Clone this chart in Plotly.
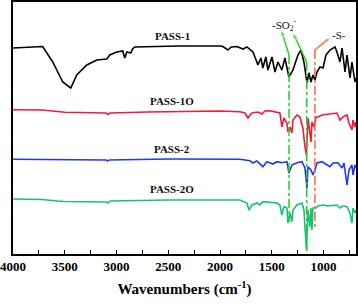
import plotly.graph_objects as go

# Wavenumbers (cm-1) and offset transmittance (arbitrary units)
pass1_wn = [4000, 3713, 3616, 3519, 3442, 3384, 3287, 3191, 3094, 3065, 2997, 2940, 2920, 2900, 2862, 2845, 2823,
            2700, 2400, 2000, 1972, 1924, 1890, 1837, 1808, 1778, 1740, 1711, 1682, 1644, 1634, 1605, 1586, 1557,
            1537, 1498, 1469, 1440, 1402, 1373, 1334, 1295, 1247, 1218, 1189, 1160, 1141, 1121, 1102, 1083, 1063,
            1034, 1005, 976, 937, 889, 870, 841, 821, 792, 773, 744, 725, 696, 686]
pass1_t = [206, 207.5, 192, 172, 166, 179, 189, 194, 195, 199, 202, 203, 196, 202, 201, 205, 207,
           207.5, 208, 208, 207.5, 204, 207, 207.5, 206, 205, 207, 204, 202, 192, 189, 196, 186, 197,
           184, 197, 182, 192, 184, 196, 177, 184, 199, 204, 192, 171, 181, 172, 179, 174, 182,
           187, 186, 199, 204, 207, 202, 192, 206, 182, 199, 176, 192, 172, 176]

pass1o_wn = [4000, 3720, 3570, 3500, 3100, 3085, 3060, 2700, 2000, 1808, 1760, 1730, 1692, 1634, 1595, 1566,
             1518, 1450, 1421, 1402, 1382, 1353, 1344, 1324, 1305, 1295, 1257, 1228, 1199, 1179, 1165, 1150,
             1121, 1112, 1092, 1073, 1054, 1015, 957, 870, 841, 812, 773, 754, 725, 715, 696, 686]
pass1o_t = [144.3, 144, 142.5, 141.7, 141, 139.5, 141, 142, 143, 142.3, 141, 136, 141, 142, 140, 143,
            143.3, 142, 141, 127, 136, 131, 122, 127, 121, 134, 139, 137, 126, 107, 99, 136,
            112, 132, 127, 137, 137, 139, 140, 141, 134, 137, 139, 131, 124, 134, 127, 132]

pass2_wn = [4000, 3500, 3100, 3090, 3070, 2500, 1808, 1711, 1682, 1644, 1586, 1547, 1489, 1450, 1402, 1353,
            1334, 1305, 1257, 1208, 1179, 1160, 1150, 1121, 1102, 1083, 1063, 1015, 937, 908, 860, 821, 802,
            773, 754, 725, 715, 696, 686]
pass2_t = [94.7, 94.5, 94, 93, 94, 95, 94.7, 93.3, 91, 93, 87.3, 92.3, 90, 92.3, 91.3, 92.3,
           81, 89, 91.3, 92.3, 86, 66, 87.3, 84, 79, 84, 91, 92.3, 87.3, 91, 91.3, 86, 91,
           69, 84, 89, 79, 89, 86]

pass2o_wn = [4000, 3720, 3570, 3500, 3100, 3085, 3060, 2500, 1808, 1778, 1740, 1720, 1692, 1644, 1615, 1586,
             1518, 1450, 1421, 1402, 1382, 1353, 1344, 1324, 1305, 1295, 1257, 1208, 1189, 1165, 1150, 1131,
             1121, 1112, 1102, 1073, 1054, 1005, 957, 870, 841, 812, 773, 744, 725, 715, 696, 686]
pass2o_t = [55, 54.5, 53, 52.5, 52, 51, 53, 54, 54, 52.3, 51, 44, 49, 51, 49, 52.3,
            51.3, 51, 49, 39, 47.3, 46, 31, 41, 32.3, 44, 49, 51, 44, 4, 44, 27.3,
            46, 24, 46, 46, 48, 49, 48, 49, 46, 48, 47.3, 41, 31, 46, 41, 44]

series_names = ["PASS-1", "PASS-1O", "PASS-2", "PASS-2O"]
series_colors = ["#000000", "#f2193c", "#2338e6", "#14c378"]
label_x = [2462, 2462, 2462, 2462]
label_y = [218, 153, 105, 65]

# marker lines: (wavenumber, y top, y bottom) and arrow tips
so2_lines_wn = [1333, 1162]
so2_lines_top = [199, 192]
so2_lines_bottom = [32, 2]
so2_tips_wn = [1411, 1300]
so2_tips_y = [225, 222]
s_line_wn = 1083
s_line_top = 204
s_line_bottom = 24
s_tip_wn = 930
s_tip_y = 217

x_ticks = [4000, 3500, 3000, 2500, 2000, 1500, 1000]

fig = go.Figure()
xs = [pass1_wn, pass1o_wn, pass2_wn, pass2o_wn]
ys = [pass1_t, pass1o_t, pass2_t, pass2o_t]
for name, c, x, y in zip(series_names, series_colors, xs, ys):
    fig.add_trace(go.Scatter(x=x, y=y, mode="lines", name=name,
                             line=dict(color=c, width=1.6), showlegend=False))

serif = "Liberation Serif"
for name, lx, ly in zip(series_names, label_x, label_y):
    fig.add_annotation(x=lx, y=ly, text=name, showarrow=False,
                       font=dict(family=serif, size=11, color="#111", weight="bold"))

green = "#22d022"
orange = "#ff6a33"


def add_arrow(x0, y0, x1, y1, color):
    fig.add_trace(go.Scatter(x=[x0, x1], y=[y0, y1], mode="lines+markers", showlegend=False,
                             hoverinfo="skip", line=dict(color=color, width=1.5),
                             marker=dict(symbol="arrow", size=[0, 8], angleref="previous",
                                         color=color)))


for wn, top, bot, tw, ty in zip(so2_lines_wn, so2_lines_top, so2_lines_bottom, so2_tips_wn, so2_tips_y):
    fig.add_shape(type="line", x0=wn, x1=wn, y0=top, y1=bot,
                  line=dict(color=green, width=1.5, dash="dashdot"))
    add_arrow(wn, top, tw, ty, green)
fig.add_shape(type="line", x0=s_line_wn, x1=s_line_wn, y0=s_line_top, y1=s_line_bottom,
              line=dict(color=orange, width=1.5, dash="dashdot"))
add_arrow(s_line_wn, s_line_top, s_tip_wn, s_tip_y, orange)

fig.add_annotation(x=1378, y=229, text="-SO<sub>2</sub><sup>-</sup>", showarrow=False,
                   font=dict(family=serif, size=11, color="#111"))
fig.add_annotation(x=855, y=219, text="-S-", showarrow=False,
                   font=dict(family=serif, size=11, color="#111"))

fig.update_layout(
    width=358, height=308,
    margin=dict(l=13, r=2, t=2, b=54),
    paper_bgcolor="white", plot_bgcolor="white",
    xaxis=dict(range=[4000, 686], tickvals=x_ticks, ticktext=[str(t) for t in x_ticks],
               automargin=False,
               ticks="inside", ticklen=4, tickwidth=1.2, tickcolor="black",
               minor=dict(dtick=250, tick0=0, ticks="inside", ticklen=4, tickwidth=1.2, tickcolor="black"),
               showline=True, linecolor="black", linewidth=1.5, mirror=True,
               showgrid=False, zeroline=False,
               tickfont=dict(family=serif, size=13, color="black", weight="bold"),
               title=dict(text="Wavenumbers (cm<sup>-1</sup>)", standoff=10,
                          font=dict(family=serif, size=15, color="black", weight="bold"))),
    yaxis=dict(range=[0, 252], showticklabels=False, ticks="", showgrid=False, zeroline=False,
               automargin=False,
               showline=True, linecolor="black", linewidth=1.5, mirror=True),
)

fig.write_html("out.html", config={"displayModeBar": False},
               post_script="document.body.style.margin='0';")
